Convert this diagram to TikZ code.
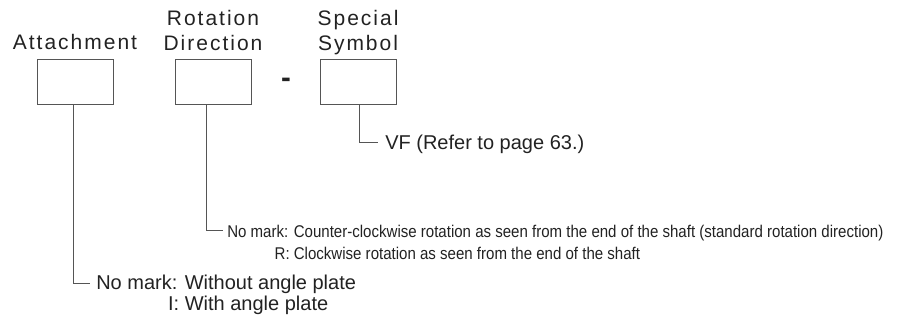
\documentclass[tikz,border=0pt]{standalone}
\usepackage{fontspec}
\setmainfont{Liberation Sans}
\newfontfamily\condfont[FakeStretch=0.885]{Liberation Sans}
\newfontfamily\trackfont[LetterSpace=9.5]{Liberation Sans}
\definecolor{inkcol}{HTML}{222222}
\definecolor{linecol}{HTML}{555555}
\begin{document}
\begin{tikzpicture}[x=0.75pt,y=-0.75pt,
  codebox/.style={draw=linecol, line width=0.75pt, minimum width=57pt, minimum height=33.75pt, inner sep=0pt},
  headtxt/.style={text=inkcol, font=\trackfont\fontsize{15.75}{18.75}\selectfont, inner sep=0pt, anchor=base},
  bigtxt/.style={text=inkcol, font=\fontsize{15}{16.5}\selectfont, inner sep=0pt, anchor=base west},
  smalltxt/.style={text=inkcol, font=\condfont\fontsize{12.75}{16.5}\selectfont, inner sep=0pt, anchor=base west},
  leader/.style={draw=linecol, line width=0.75pt}]
\useasboundingbox (0,0) rectangle (898,327);

% boxes
\node[codebox] (b1) at (75,82.5) {};
\node[codebox] (b2) at (213,82.5) {};
\node[codebox] (b3) at (358,82.5) {};

% headings
\node[headtxt] (h1) at (75,50) {Attachment};
\node[headtxt] (h2) at (213,51) {\begin{tabular}[b]{@{}c@{}}Rotation\\Direction\end{tabular}};
\node[headtxt] (h3) at (358,51) {\begin{tabular}[b]{@{}c@{}}Special\\Symbol\end{tabular}};

% dash
\node[text=inkcol, font=\bfseries\fontsize{22}{22}\selectfont, inner sep=0pt, anchor=base] (dash) at (286,88) {-};

% texts
\node[bigtxt] (t3) at (385,150) {VF (Refer to page 63.)};
\node[smalltxt] (t2) at (227,238) {\begin{tabular}[t]{@{}r@{ }l@{}}No mark:&Counter-clockwise rotation as seen from the end of the shaft (standard rotation direction)\\R:&Clockwise rotation as seen from the end of the shaft\end{tabular}};
\node[bigtxt] (t1) at (96,289) {\begin{tabular}[t]{@{}r@{ }l@{}}No mark:&Without angle plate\\I:&With angle plate\end{tabular}};

% leader ends
\coordinate (e1) at (90,283.5);
\coordinate (e2) at (223,231);
\coordinate (e3) at (378,142.5);

% leaders
\draw[leader] (b1.south) ++(-2,0) |- (e1);
\draw[leader] (b2.south) ++(-7,0) |- (e2);
\draw[leader] (b3.south) ++(1,0) |- (e3);
\end{tikzpicture}
\end{document}
